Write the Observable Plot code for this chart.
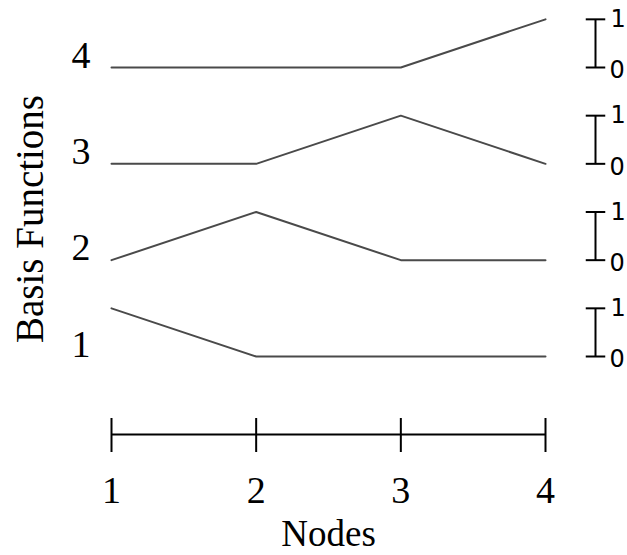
<!DOCTYPE html>
<html>
<head>
<meta charset="utf-8">
<script src="https://cdn.jsdelivr.net/npm/d3@7"></script>
<script src="https://cdn.jsdelivr.net/npm/@observablehq/plot@0.6"></script>
<style>
  body { margin: 0; background: #fff; }
  #chart svg { display: block; }
</style>
</head>
<body>
<div id="chart"></div>
<script>
// ---- data ----
const nodes = [1, 2, 3, 4];
const basisFunctions = [1, 2, 3, 4];
// value of each basis function at each node (rows: function 1..4)
const basis1 = [1, 0, 0, 0];
const basis2 = [0, 1, 0, 0];
const basis3 = [0, 0, 1, 0];
const basis4 = [0, 0, 0, 1];
const scaleLabels = ["0", "1"];

// ---- table built from the arrays ----
const basisValues = [basis1, basis2, basis3, basis4];
const rows = [];
basisFunctions.forEach((fn, i) => {
  nodes.forEach((n, j) => rows.push({fn, node: n, value: basisValues[i][j]}));
});

const PEAK = 0.5; // display height of value 1, in row units
const W = 627, H = 555;
const serif = "'Liberation Serif', 'Times New Roman', serif";

const yScale = d3.scaleLinear([1, 4], [356, 67]);
const axisLevel = yScale.invert(434);

const hline = {
  draw(context, size) {
    const w = Math.sqrt(size);
    context.moveTo(-w, 0);
    context.lineTo(w, 0);
  }
};

const scaleMarks = [];
basisFunctions.forEach(fn => {
  scaleMarks.push({fn, v: 0, label: scaleLabels[0]});
  scaleMarks.push({fn, v: 1, label: scaleLabels[1]});
});
const zeros = scaleMarks.filter(d => d.v === 0);
const ones = scaleMarks.filter(d => d.v === 1);

const plot = Plot.plot({
  width: W,
  height: H,
  marginLeft: 111,
  marginRight: 82,
  marginTop: 19,
  marginBottom: 137,
  style: {fontFamily: serif, background: "white", color: "black"},
  x: {domain: [1, 4], axis: null},
  y: {domain: [1, 4], range: [356, 67], axis: null},
  marks: [
    // x axis
    Plot.axisX(nodes, {anchor: "bottom", tickSize: 34, tickPadding: 24, tickFormat: d3.format("d"),
      fontSize: 38, strokeWidth: 2, label: null, stroke: "black"}),
    Plot.ruleY([axisLevel], {x1: 1, x2: 4, stroke: "black", strokeWidth: 2}),
    Plot.text(["Nodes"], {frameAnchor: "bottom", dy: 127, fontSize: 37, lineAnchor: "bottom", textAnchor: "middle"}),
    // y label
    Plot.text(["Basis Functions"], {frameAnchor: "left", dx: -81, rotate: -90, fontSize: 39,
      textAnchor: "middle", lineAnchor: "middle"}),
    // basis function lines
    Plot.line(rows, {x: "node", y: d => d.fn + PEAK * d.value, z: "fn", stroke: "#4a4a4a", strokeWidth: 2}),
    // left labels
    Plot.text(basisFunctions, {x: 1, y: d => d, text: d => String(d), dx: -21, textAnchor: "end",
      lineAnchor: "bottom", fontSize: 38}),
    // right scale brackets
    Plot.link(basisFunctions, {x1: 4, x2: 4, y1: d => d, y2: d => d + PEAK, dx: 50, stroke: "black", strokeWidth: 2}),
    Plot.dot(scaleMarks, {x: 4, y: d => d.fn + PEAK * d.v, dx: 50, symbol: hline, r: 5.5, stroke: "black", strokeWidth: 2, fill: "none"}),
    Plot.text(ones, {x: 4, y: d => d.fn + PEAK, text: "label", dx: 65, dy: 0,
      textAnchor: "start", lineAnchor: "middle", fontSize: 24, fontFamily: "'DejaVu Sans', sans-serif"}),
    Plot.text(zeros, {x: 4, y: "fn", text: "label", dx: 64, dy: 3,
      textAnchor: "start", lineAnchor: "middle", fontSize: 24, fontFamily: "'DejaVu Sans', sans-serif"})
  ]
});

document.getElementById("chart").appendChild(plot);
</script>
</body>
</html>
